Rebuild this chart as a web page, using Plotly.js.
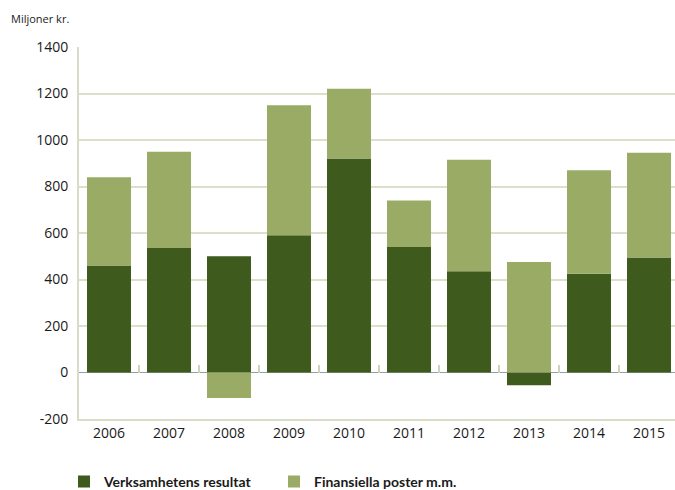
<!DOCTYPE html>
<html>
<head>
<meta charset="utf-8">
<script src="https://cdn.plot.ly/plotly-3.0.1.min.js"></script>
<style>html,body{margin:0;padding:0;overflow:hidden;background:#fff}</style>
</head>
<body>
<div id="chart" style="width:680px;height:490px"></div>
<script>
const years = ['2006','2007','2008','2009','2010','2011','2012','2013','2014','2015'];
const verksamhetensResultat = [460, 535, 500, 590, 920, 540, 435, -55, 425, 495];
const finansiellaPoster = [380, 415, -110, 560, 300, 200, 480, 475, 445, 450];
const yTicks = [-200, 0, 200, 400, 600, 800, 1000, 1200, 1400];
const yLabels = ['-200', '0', '200', '400', '600', '800', '1000', '1200', '1400'];

const font = 'Open Sans, Noto Sans, sans-serif';
const data = [
  {type: 'bar', name: 'Verksamhetens resultat', x: years, y: verksamhetensResultat,
   marker: {color: '#3e5a1c'}, hoverinfo: 'skip'},
  {type: 'bar', name: 'Finansiella poster m.m.', x: years, y: finansiellaPoster,
   marker: {color: '#99ab65'}, hoverinfo: 'skip'},
  {type: 'bar', x: years, y: years.map(() => null), xaxis: 'x2', showlegend: false, hoverinfo: 'skip'}
];
const layout = {
  width: 680, height: 490,
  margin: {l: 79, r: 1, t: 47, b: 71, autoexpand: false},
  barmode: 'relative',
  bargap: 0.267,
  plot_bgcolor: '#fff', paper_bgcolor: '#fff',
  font: {family: font, size: 14, color: '#1a1a1a'},
  xaxis: {
    type: 'category', range: [-0.5, 9.5], showgrid: false, zeroline: false,
    showline: true, linecolor: '#d9dcc6', linewidth: 2, ticks: '', fixedrange: true,
    tickfont: {size: 14}
  },
  xaxis2: {
    type: 'category', range: [-0.5, 9.5], overlaying: 'x', anchor: 'free', position: 0.125,
    showgrid: false, zeroline: false, showline: false, showticklabels: false,
    ticks: 'inside', tickson: 'boundaries', ticklen: 8, tickwidth: 1.5, tickcolor: '#cfd3b8'
  },
  yaxis: {
    range: [-200, 1400], tickvals: yTicks, ticktext: yLabels,
    showgrid: true, gridcolor: '#dcdfca', gridwidth: 2,
    zeroline: true, zerolinecolor: '#8fa3a0', zerolinewidth: 1,
    showline: true, linecolor: '#d9dcc6', linewidth: 2, ticks: '', ticklabelstandoff: 6,
    tickfont: {size: 14}
  },
  legend: {
    orientation: 'h', x: -0.025, xanchor: 'left', y: -0.169, yanchor: 'middle',
    font: {family: 'Lato, sans-serif', size: 14, color: '#1a1a1a', weight: 'bold'},
    itemwidth: 30, traceorder: 'normal', entrywidth: 165
  },
  annotations: [{
    text: 'Miljoner kr.', xref: 'paper', yref: 'paper', x: -70/600, y: 1 + 29/372,
    xanchor: 'left', yanchor: 'middle', showarrow: false, font: {size: 11, color: '#1a1a1a'}
  }]
};
Plotly.newPlot('chart', data, layout, {displayModeBar: false, staticPlot: true});
</script>
</body>
</html>
